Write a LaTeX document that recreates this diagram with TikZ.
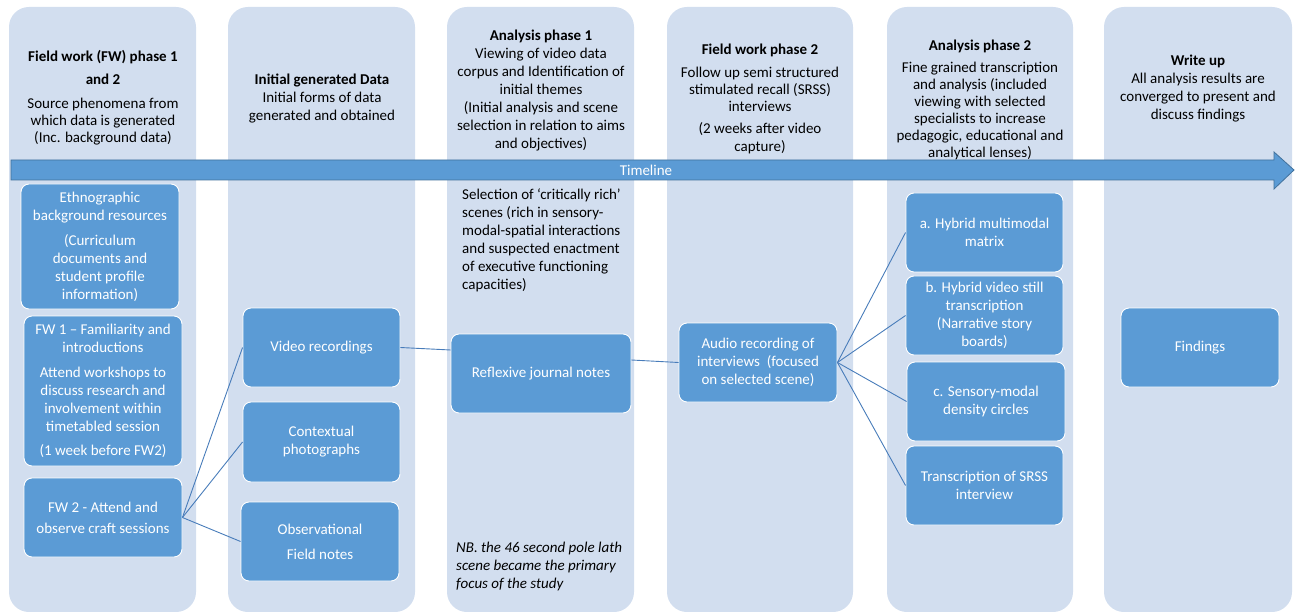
\documentclass[tikz,border=0pt]{standalone}
\usepackage{fontspec}
\setmainfont{Carlito}
\definecolor{colbg}{RGB}{210,222,239}
\definecolor{boxblue}{RGB}{91,155,213}
\definecolor{arrowedge}{RGB}{65,113,156}
\definecolor{linkblue}{RGB}{72,124,186}
\tikzset{
  column/.style={fill=colbg, draw=none, rounded corners=20pt},
  hdr/.style={align=center, inner sep=0pt, text=black, font=\fontsize{15}{18}\selectfont},
  note/.style={align=left, inner sep=0pt, text=black, font=\fontsize{15}{18}\selectfont},
  stagebox/.style={fill=boxblue, draw=white, line width=0.9pt, rounded corners=8pt,
    text=white, align=center, inner sep=2pt, font=\fontsize{15}{18}\selectfont},
  link/.style={draw=linkblue, line width=0.9pt},
}
\begin{document}
\begin{tikzpicture}[x=1pt,y=-1pt]
\useasboundingbox (0,0) rectangle (1298,612);

% phase columns
\fill[column] (9,7) rectangle (196,612);
\fill[column] (228,7) rectangle (415,612);
\fill[column] (447,7) rectangle (634,612);
\fill[column] (667,7) rectangle (853,612);
\fill[column] (887,7) rectangle (1073,612);
\fill[column] (1104,7) rectangle (1292,612);

% column headings
\node[hdr] (h1) at (103,98) {\textbf{Field work (FW) phase 1}\\[5pt]\textbf{and 2}\\[6pt]Source phenomena from\\[-1pt]which data is generated\\[-1pt](Inc. background data)};
\node[hdr] (h2) at (322,99) {\textbf{Initial generated Data}\\Initial forms of data\\generated and obtained};
\node[hdr] (h3) at (541,91) {\textbf{Analysis phase 1}\\Viewing of video data\\corpus and Identification of\\initial themes\\(Initial analysis and scene\\selection in relation to aims\\and objectives)};
\node[hdr] (h4) at (760,98.5) {\textbf{Field work phase 2}\\[5pt]Follow up semi structured\\[-1pt]stimulated recall (SRSS)\\[-1pt]interviews\\[4pt](2 weeks after video\\capture)};
\node[hdr] (h5) at (980,100) {\textbf{Analysis phase 2}\\[4pt]Fine grained transcription\\[-1pt]and analysis (included\\[-1pt]viewing with selected\\[-1pt]specialists to increase\\[-1pt]pedagogic, educational and\\[-1pt]analytical lenses)};
\node[hdr] (h6) at (1198,89) {\textbf{Write up}\\All analysis results are\\converged to present and\\discuss findings};

% timeline arrow
\draw[fill=boxblue, draw=arrowedge, line width=0.8pt]
  (11,160) -- (1274,160) -- (1274,152) -- (1294,170) -- (1274,189) -- (1274,180) -- (11,180) -- cycle;
\node[text=white, inner sep=0pt, font=\fontsize{15}{18}\selectfont] (tl) at (646,170) {Timeline};

% notes in analysis phase 1
\node[note, anchor=west] (sel) at (462,240) {Selection of ‘critically rich’\\scenes (rich in sensory-\\modal-spatial interactions\\and suspected enactment\\of executive functioning\\capacities)};
\node[note, anchor=west] (nb) at (456,566) {\itshape NB. the 46 second pole lath\\\itshape scene became the primary\\\itshape focus of the study};

% stage boxes
\node[stagebox, minimum width=158pt, minimum height=125pt] (eth) at (100,246.5)
  {Ethnographic\\background resources\\[7pt](Curriculum\\documents and\\student profile\\information)};
\node[stagebox, minimum width=158pt, minimum height=150pt] (fw1) at (103,391)
  {FW 1 – Familiarity and\\introductions\\[7pt]Attend workshops to\\discuss research and\\involvement within\\timetabled session\\[6pt](1 week before FW2)};
\node[stagebox, minimum width=158pt, minimum height=79pt] (fw2) at (103,517.5)
  {FW 2 - Attend and\\[3pt]observe craft sessions};

\node[stagebox, minimum width=157pt, minimum height=79pt] (video) at (321.5,347.5) {Video recordings};
\node[stagebox, minimum width=157pt, minimum height=80pt] (photo) at (321.5,442) {Contextual\\photographs};
\node[stagebox, minimum width=158pt, minimum height=79pt] (obs) at (320,541.5) {Observational\\[7pt]Field notes};

\node[stagebox, minimum width=180pt, minimum height=79pt] (refl) at (541,373.5) {Reflexive journal notes};

\node[stagebox, minimum width=158pt, minimum height=79pt] (audio) at (758,362.5)
  {Audio recording of\\interviews~~(focused\\on selected scene)};

\node[stagebox, minimum width=157pt, minimum height=79pt] (ma) at (984.5,232.5) {a. Hybrid multimodal\\matrix};
\node[stagebox, minimum width=157pt, minimum height=79pt] (mb) at (984.5,315.5)
  {b. Hybrid video still\\transcription\\(Narrative story\\boards)};
\node[stagebox, minimum width=158pt, minimum height=79pt] (mc) at (986,401.5) {c. Sensory-modal\\density circles};
\node[stagebox, minimum width=157pt, minimum height=79pt] (md) at (984.5,485.5) {Transcription of SRSS\\interview};

\node[stagebox, minimum width=158pt, minimum height=79pt] (find) at (1200,347.5) {Findings};

% connectors
\draw[link] (fw2.east) -- (video.west);
\draw[link] (fw2.east) -- (photo.west);
\draw[link] (fw2.east) -- (obs.west);
\draw[link] (video.east) -- ([yshift=23.5pt]refl.west);
\draw[link] ([yshift=13.5pt]refl.east) -- (audio.west);
\draw[link] (audio.east) -- (ma.west);
\draw[link] (audio.east) -- (mb.west);
\draw[link] (audio.east) -- (mc.west);
\draw[link] (audio.east) -- (md.west);
\end{tikzpicture}
\end{document}
